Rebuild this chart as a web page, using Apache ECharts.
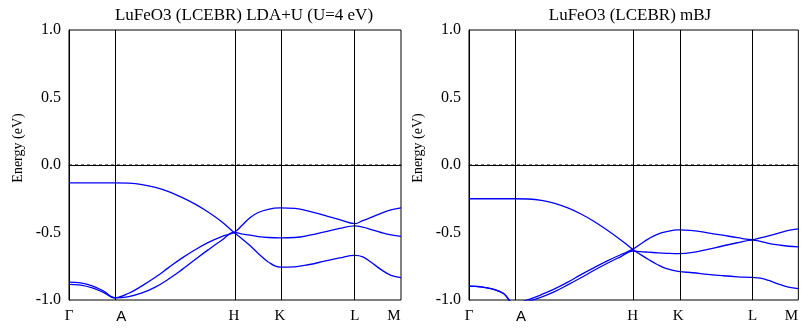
<!DOCTYPE html>
<html><head><meta charset="utf-8">
<script src="https://cdn.jsdelivr.net/npm/echarts@6/dist/echarts.min.js"></script>
<style>html,body{margin:0;padding:0;background:#fff}#c{width:801px;height:335px}</style>
</head><body><div id="c"></div><script>
// k-path sample positions (fraction of path length)
const kGrid = [0, 0.035, 0.07, 0.105, 0.138, 0.18, 0.22, 0.26, 0.30, 0.34, 0.38, 0.42, 0.46, 0.497,
  0.52, 0.545, 0.57, 0.6, 0.635, 0.68, 0.725, 0.77, 0.815, 0.861, 0.885, 0.91, 0.94, 0.97, 1.0];
const kTicks = [0, 0.138, 0.497, 0.635, 0.861, 1.0];
const kLabels = ['Γ', 'A', 'H', 'K', 'L', 'M'];
const yMin = -1, yMax = 1, yStep = 0.5;
const fermiLevel = 0;
const titles = ['LuFeO3 (LCEBR) LDA+U (U=4 eV)', 'LuFeO3 (LCEBR) mBJ'];
const yName = 'Energy (eV)';

// LDA+U bands (eV)
const ldauBand1 = [-0.133, -0.133, -0.133, -0.133, -0.133, -0.135, -0.145, -0.166, -0.197, -0.24, -0.29, -0.35, -0.42, -0.50,
  -0.545, -0.597, -0.655, -0.718, -0.756, -0.754, -0.737, -0.712, -0.688, -0.669, -0.68, -0.72, -0.775, -0.818, -0.835];
const ldauBand2 = [-0.867, -0.873, -0.895, -0.935, -0.984, -0.95, -0.895, -0.832, -0.76, -0.69, -0.628, -0.573, -0.53, -0.50,
  -0.45, -0.39, -0.352, -0.328, -0.318, -0.322, -0.343, -0.373, -0.405, -0.434, -0.412, -0.388, -0.358, -0.332, -0.318];
const ldauBand3 = [-0.884, -0.89, -0.91, -0.945, -0.984, -0.975, -0.948, -0.905, -0.845, -0.775, -0.70, -0.627, -0.558, -0.50,
  -0.51, -0.52, -0.53, -0.537, -0.54, -0.537, -0.52, -0.495, -0.47, -0.451, -0.46, -0.478, -0.5, -0.518, -0.528];

// mBJ bands (eV)
const mbjBand1 = [-0.25, -0.25, -0.25, -0.25, -0.25, -0.252, -0.262, -0.284, -0.318, -0.363, -0.418, -0.483, -0.553, -0.625,
  -0.662, -0.70, -0.735, -0.768, -0.788, -0.798, -0.81, -0.82, -0.828, -0.833, -0.838, -0.855, -0.882, -0.904, -0.915];
const mbjBand2 = [-0.897, -0.902, -0.918, -0.952, -1.025, -0.997, -0.96, -0.918, -0.868, -0.812, -0.76, -0.71, -0.665, -0.625,
  -0.587, -0.547, -0.515, -0.494, -0.481, -0.486, -0.503, -0.52, -0.538, -0.553, -0.54, -0.525, -0.505, -0.485, -0.473];
const mbjBand3 = [-0.897, -0.902, -0.918, -0.952, -1.035, -1.01, -0.978, -0.938, -0.888, -0.835, -0.78, -0.728, -0.68, -0.637,
  -0.642, -0.646, -0.65, -0.654, -0.657, -0.648, -0.625, -0.6, -0.576, -0.556, -0.565, -0.58, -0.592, -0.602, -0.607];

const panels = [[ldauBand1, ldauBand2, ldauBand3], [mbjBand1, mbjBand2, mbjBand3]];

const serif = '"Liberation Serif", "Times New Roman", serif';
const chart = echarts.init(document.getElementById('c'), null, {renderer: 'canvas'});
const gridLefts = [69, 469];
const titleCenters = [239, 625];
const nameX = [18, 418];

const option = {
  animation: false,
  title: titles.map((t, i) => ({
    text: t, left: titleCenters[i], top: 2, textAlign: 'center',
    textStyle: {fontFamily: serif, fontSize: 17, fontWeight: 'normal', color: '#000'}
  })),
  grid: gridLefts.map(l => ({left: l, top: 30, width: 332, height: 270, show: true, borderColor: '#000', borderWidth: 1, containLabel: false})),
  xAxis: gridLefts.map((l, i) => ({
    type: 'value', gridIndex: i, min: 0, max: 1,
    axisLine: {show: true, lineStyle: {color: '#000', width: 1}},
    axisTick: {show: false},
    splitLine: {show: false},
    axisLabel: {
      customValues: kTicks, margin: 9, color: '#000', fontFamily: serif, fontSize: 15,
      formatter: v => {
        const idx = kTicks.findIndex(t => Math.abs(t - v) < 1e-6);
        const s = idx >= 0 ? kLabels[idx] : '';
        if (s === 'A') return '{a|A}';
        if (s === 'M') return '{m|M}';
        return s;
      },
      rich: {
        a: {fontFamily: '"Liberation Sans", Arial, sans-serif', fontSize: 15, color: '#000', padding: [0, 0, 0, 13]},
        m: {fontFamily: serif, fontSize: 15, color: '#000', padding: [0, 14, 0, 0]}
      }
    }
  })),
  yAxis: gridLefts.map((l, i) => ({
    type: 'value', gridIndex: i, min: yMin, max: yMax, interval: yStep,
    axisLine: {show: true, lineStyle: {color: '#000', width: 1}},
    axisTick: {show: false},
    splitLine: {show: false},
    axisLabel: {margin: 8, color: '#000', fontFamily: serif, fontSize: 16, formatter: v => v.toFixed(1)}
  })),
  graphic: nameX.map(x => ({
    type: 'text', x: x, y: 148, rotation: Math.PI / 2,
    style: {text: yName, font: '14px ' + serif, fill: '#000', align: 'center', verticalAlign: 'middle', textAlign: 'center', textVerticalAlign: 'middle'}
  })),
  series: []
};

panels.forEach((bands, p) => {
  // symmetry-point vertical lines
  option.series.push({
    type: 'line', xAxisIndex: p, yAxisIndex: p, data: [], silent: true, z: 2,
    markLine: {
      silent: true, symbol: 'none', label: {show: false}, animation: false,
      lineStyle: {color: '#000', width: 1, type: 'solid'},
      data: kTicks.slice(1, 5).map(k => ({xAxis: k}))
    }
  });
  // dashed Fermi level
  option.series.push({
    type: 'line', xAxisIndex: p, yAxisIndex: p, silent: true, z: 2,
    data: [[kTicks[0], fermiLevel], [kTicks[kTicks.length - 1], fermiLevel]],
    showSymbol: false,
    lineStyle: {color: '#000', width: 1, type: [3, 3]}
  });
  bands.forEach(band => {
    option.series.push({
      type: 'line', xAxisIndex: p, yAxisIndex: p,
      data: kGrid.map((k, j) => [k, band[j]]),
      showSymbol: false, smooth: 0.4, clip: true,
      lineStyle: {color: '#0000ff', width: 1.3},
      silent: true, z: 3
    });
  });
});

chart.setOption(option);
</script></body></html>
